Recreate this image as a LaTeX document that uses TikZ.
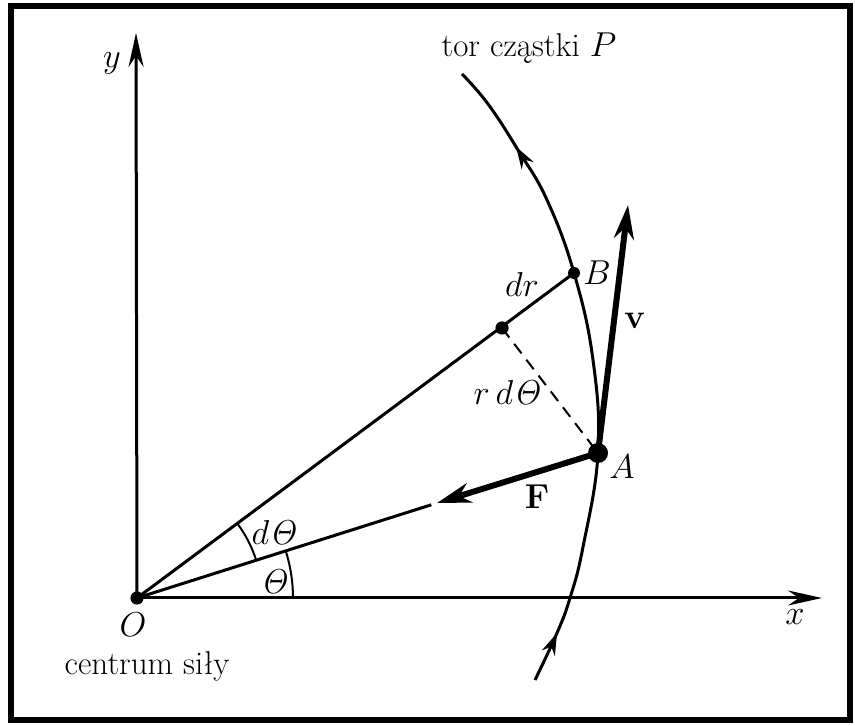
\documentclass[tikz,border=0pt]{standalone}
\usepackage{amsmath}
\usepackage{amssymb}
\usepackage{xcolor}
\usepackage{tikz}
\usetikzlibrary{arrows.meta,decorations.markings}

\tikzset{
  axis/.style={line width=1.5pt, -{Stealth[length=17pt, width=7.5pt]}},
  vecarrow/.style={line width=3pt, -{Stealth[length=17pt, width=10pt]}},
  midarrows/.style={postaction={decorate}, decoration={markings,
      mark=at position 0.08 with {\arrow{Stealth[length=11pt, width=7pt]}},
      mark=at position 0.86 with {\arrow{Stealth[length=11pt, width=7pt]}}}},
  anglearc/.style={line width=1pt},
}

\begin{document}
\begin{tikzpicture}[x=0.5pt, y=0.5pt, font=\fontsize{16.5}{19}\selectfont, line width=1.5pt]
        \useasboundingbox (0,0) rectangle (855,726);
        \draw[line width=3pt] (11,6) rectangle (850,720);
        % points
        \coordinate (O) at (137,128);
        \coordinate (A) at (598,273);
        \coordinate (B) at (574,453);
        \coordinate (M) at (502,398);
        \coordinate (ytip) at (136,693);
        \coordinate (xtip) at (822,128);
        \coordinate (Ftip) at (437,223);
        \coordinate (vtip) at (628,521);
        % axes
        \draw[axis] (O) -- (xtip);
        \draw[axis] (O) -- (ytip);
        % trajectory
        \draw[midarrows] plot[smooth, tension=0.7] coordinates
          {(535,46) (557,93) (570,128) (583,179) (598,273) (593,366) (574,453) (547,526) (518,576) (488,622) (462,652)};
        % radii
        \draw (O) -- (B);
        \draw[shorten >=3pt] (O) -- (Ftip);
        \draw[dashed, line width=1pt, dash pattern=on 6pt off 4pt] (M) -- (A);
        % angles
        \draw[anglearc] (O) ++(17.46:125) arc[start angle=17.46, end angle=36.64, radius=125];
        \draw[anglearc] (O) ++(0:156) arc[start angle=0, end angle=17.46, radius=156];
        % force and velocity
        \draw[vecarrow] (A) -- (Ftip);
        \draw[vecarrow] (A) -- (vtip);
        \fill (O) circle (3.3pt);
        \fill (M) circle (3.3pt);
        \fill (B) circle (3pt);
        \fill (A) circle (5pt);
        % labels
        \node (ylab) at (112,663) {$y$};
        \node (xlab) at (795,109) {$x$};
        \node (Olab) at (133,101) {$O$};
        \node[anchor=base] (centrum) at (147,51) {centrum siły};
        \node[anchor=base] (tor) at (529,669) {tor cząstki $P$};
        \node (Blab) at (597,453) {$B$};
        \node (vlab) at (635,405) {$\mathbf{v}$};
        \node (drlab) at (522,441) {$dr$};
        \node (rdlab) at (508,333) {$r\,d\mathit{\Theta}$};
        \node (Alab) at (622,259) {$A$};
        \node (Flab) at (537,229) {$\mathbf{F}$};
        \node (dthlab) at (275,193) {$d\mathit{\Theta}$};
        \node (thlab) at (275,144) {$\mathit{\Theta}$};
      \end{tikzpicture}
\end{document}
